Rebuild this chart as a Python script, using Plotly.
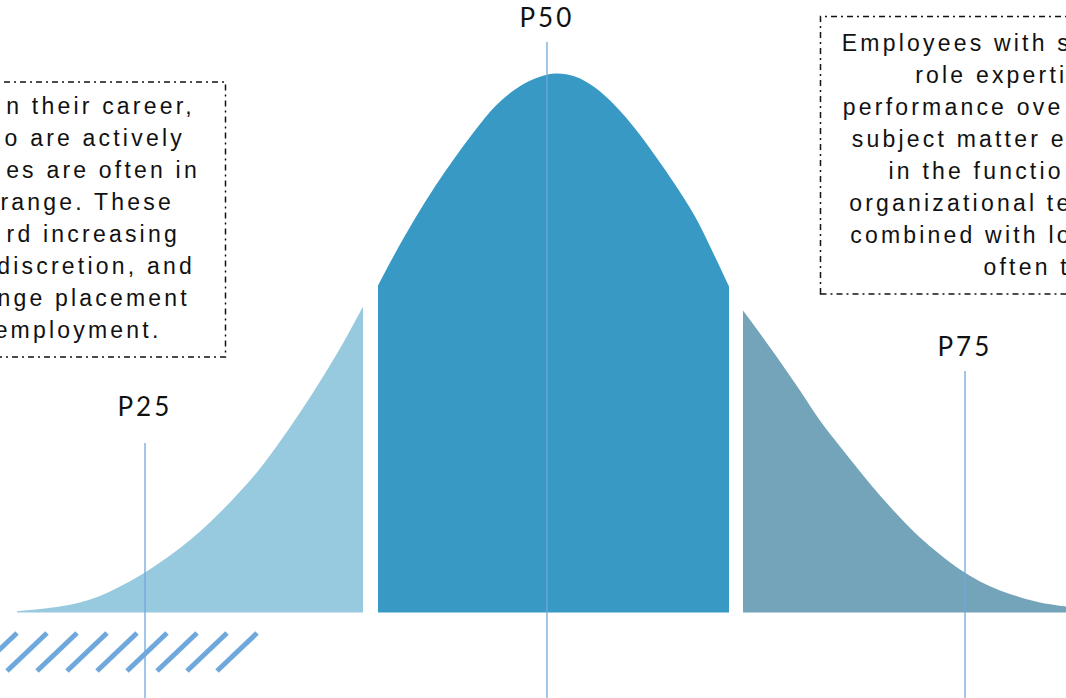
import plotly.graph_objects as go

# ---------------- data ----------------
# bell-curve heights above the baseline, in chart units
left_x = [17, 40, 60, 80, 100, 120, 140, 160, 180, 200, 220, 240, 260, 280, 300, 320, 340, 363]
left_h = [1.3, 3.5, 6, 10, 16.5, 26, 37, 50, 64.5, 81, 100, 121, 144, 171, 200, 231, 264, 306]

mid_x = [378, 395, 415, 435, 455, 475, 495, 515, 535, 555, 575, 595, 615, 635, 655, 675, 695, 712, 729]
mid_h = [327, 359, 394, 426, 455, 482, 506, 523, 534, 539, 536, 525, 507, 484, 457, 428, 396, 362, 326]

right_x = [743, 760, 780, 800, 820, 840, 860, 880, 900, 920, 940, 960, 980, 1000, 1020, 1040, 1066]
right_h = [302, 279, 251, 222, 192, 166, 141, 117, 95, 75, 58, 43, 31, 22, 15.3, 10, 6]

percentile_labels = ["P25", "P50", "P75"]
percentile_x = [145, 547, 965]

left_box_lines = [
    "n their career,",
    "o are actively",
    "es are often in",
    "range. These",
    "rd increasing",
    "discretion, and",
    "nge placement",
    "employment.",
]
right_box_lines = [
    "Employees with s",
    "role experti",
    "performance ove",
    "subject matter e",
    "in the functio",
    "organizational te",
    "combined with lo",
    "often t",
]

# ---------------- layout helpers ----------------
W, H = 1066, 698
BASE = 612.5            # pixel row of the baseline


def up(py):
    """convert a pixel row to chart units (height above baseline)"""
    return BASE - py


label_rows = [405.5, 17.3, 346]      # pixel rows of the P labels
line_tops = [443, 42, 371]           # pixel rows where the marker lines begin

LS = 3.2                              # letter spacing of the box text (px)
left_line_ends = [191.7, 181.7, 196.7, 170.7, 176.7, 191.7, 186.7, 158.3]
right_line_starts = [843.3, 916.7, 844.3, 853.3, 890, 850.7, 851.7, 985]
left_first_row, right_first_row, row_pitch = 108, 45, 32.1

C_LEFT = "#97C9DF"
C_MID = "#3899C4"
C_RIGHT = "#73A4BA"
C_LINE = "#6FA8DC"
BODY_FONT = dict(family="Liberation Sans, Arial, sans-serif", size=23, color="#111111")

fig = go.Figure()

for xs, hs, col in [(left_x, left_h, C_LEFT), (mid_x, mid_h, C_MID), (right_x, right_h, C_RIGHT)]:
    fig.add_trace(go.Scatter(
        x=xs, y=hs, mode="lines", fill="tozeroy", fillcolor=col,
        line=dict(width=0, color=col, shape="spline", smoothing=1.0),
        hoverinfo="skip", showlegend=False,
    ))

# text in the two boxes
fig.add_trace(go.Scatter(
    x=[e + LS for e in left_line_ends],
    y=[up(left_first_row + i * row_pitch) for i in range(len(left_box_lines))],
    text=left_box_lines, mode="text", textposition="middle left",
    textfont=BODY_FONT, hoverinfo="skip", showlegend=False,
))
fig.add_trace(go.Scatter(
    x=[s - 1.5 for s in right_line_starts],
    y=[up(right_first_row + i * row_pitch) for i in range(len(right_box_lines))],
    text=right_box_lines, mode="text", textposition="middle right",
    textfont=BODY_FONT, hoverinfo="skip", showlegend=False,
))

shapes = []
# dash-dot boxes
box_dash = "6px,4px,2px,4px"
shapes.append(dict(type="rect", xref="x", yref="y", x0=-20, x1=225.5, y0=up(357), y1=up(82),
                   line=dict(color="#111111", width=1.5, dash=box_dash), fillcolor="rgba(0,0,0,0)"))
shapes.append(dict(type="rect", xref="x", yref="y", x0=820.5, x1=1090, y0=up(294), y1=up(16.5),
                   line=dict(color="#111111", width=1.5, dash=box_dash), fillcolor="rgba(0,0,0,0)"))

# percentile marker lines
for px, top in zip(percentile_x, line_tops):
    shapes.append(dict(type="line", xref="x", yref="y", x0=px, x1=px, y0=up(top), y1=up(H + 5),
                       line=dict(color=C_LINE, width=1.3)))

# hatch decoration
for b in range(-23, 230, 30):
    shapes.append(dict(type="line", xref="x", yref="y", x0=b, x1=b + 40, y0=up(671), y1=up(633),
                       line=dict(color=C_LINE, width=5)))

annotations = []
for lab, px, row in zip(percentile_labels, percentile_x, label_rows):
    annotations.append(dict(x=px, y=up(row), xref="x", yref="y", text=lab, showarrow=False,
                            xanchor="center", yanchor="middle",
                            font=dict(family="Lato, Open Sans, sans-serif", size=26, color="#111111")))

fig.update_layout(
    width=W, height=H, margin=dict(l=0, r=0, t=0, b=0),
    paper_bgcolor="white", plot_bgcolor="white",
    xaxis=dict(range=[0, W], visible=False, fixedrange=True),
    yaxis=dict(range=[up(H), up(0)], visible=False, fixedrange=True),
    shapes=shapes, annotations=annotations, showlegend=False,
)

post = """
document.body.style.margin='0';
document.body.style.overflow='hidden';
var gd=document.getElementById('{plot_id}');
gd.querySelectorAll('.textpoint text').forEach(function(t){t.style.letterSpacing='%spx';});
gd.querySelectorAll('.annotation-text').forEach(function(t){t.style.letterSpacing='3px';});
""" % LS

fig.write_html("out.html", config={"displayModeBar": False}, post_script=post)
